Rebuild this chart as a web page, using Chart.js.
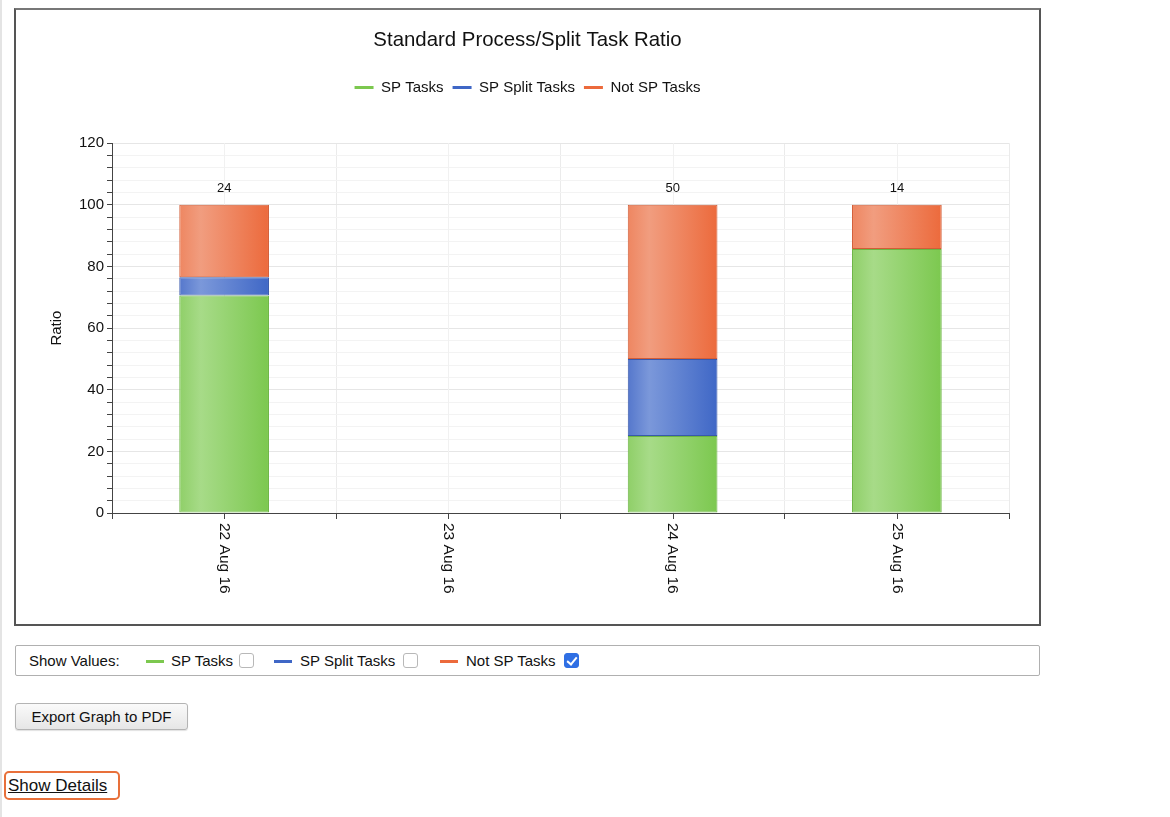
<!DOCTYPE html>
<html><head><meta charset="utf-8">
<script src="https://cdn.jsdelivr.net/npm/chart.js@4.4.1/dist/chart.umd.min.js"></script>
<style>
html,body{margin:0;padding:0;background:#fff;font-family:"Liberation Sans",Arial,Helvetica,sans-serif;color:#111;}
body{width:1170px;height:817px;position:relative;overflow:hidden;}
#strip{position:absolute;left:0;top:0;width:2px;height:817px;background:#e4e4e4;}
#box{position:absolute;left:14px;top:8px;width:1023px;height:614px;border:2px solid #555;border-top-color:#777;}
#box canvas{display:block;}
#vals{position:absolute;left:15px;top:645px;width:1023px;height:29px;border:1px solid #b0b0b0;border-radius:2px;font-size:15px;}
#vals span{position:absolute;top:6px;line-height:17px;white-space:nowrap;}
.sw{position:absolute;top:14px;width:18px;height:3px;}
.cb{position:absolute;top:7px;width:13px;height:13px;border:1px solid #b8b8b8;border-radius:3px;background:#fff;}
.cb.on{background:#2f6fe4;border-color:#2f6fe4;}
.cb.on::after{content:"";position:absolute;left:4px;top:1px;width:4px;height:8px;border:solid #fff;border-width:0 2px 2px 0;transform:rotate(40deg);}
#btn{position:absolute;left:15px;top:703px;width:171px;height:25px;border:1px solid #b4b4b4;border-radius:3px;background:linear-gradient(#fafafa,#e6e6e6);font-size:15px;line-height:25px;text-align:center;box-shadow:0 1px 1px rgba(0,0,0,0.12);}
#det{position:absolute;left:4px;top:771px;width:112px;height:25px;border:2.5px solid #e8703a;border-radius:5px;}
#det a{position:absolute;left:2px;top:3px;font-size:17px;color:#111;text-decoration:underline;}
</style></head>
<body>
<div id="strip"></div>
<div id="box"><canvas id="c"></canvas></div>
<div id="vals">
  <span style="left:13px">Show Values:</span>
  <div class="sw" style="left:130px;background:#7cc84f"></div><span style="left:155px">SP Tasks</span><div class="cb" style="left:223px"></div>
  <div class="sw" style="left:258px;background:#3f67c6"></div><span style="left:284px">SP Split Tasks</span><div class="cb" style="left:387px"></div>
  <div class="sw" style="left:424px;background:#ec6a3c"></div><span style="left:450px">Not SP Tasks</span><div class="cb on" style="left:548px"></div>
</div>
<div id="btn">Export Graph to PDF</div>
<div id="det"><a href="#">Show Details</a></div>
<script>
const categories = ['22 Aug 16', '23 Aug 16', '24 Aug 16', '25 Aug 16'];
const spTasks = [70.6, null, 25, 85.7];
const spSplitTasks = [5.9, null, 25, null];
const notSpTasks = [23.5, null, 50, 14.3];
const seriesNames = ['SP Tasks', 'SP Split Tasks', 'Not SP Tasks'];
const showValues = [false, false, true];
const yMin = 0, yMax = 120, yMajorStep = 20, yMinorStep = 4;

const palette = [
  {stops: ['#8fcf68', '#a7db88', '#7cc84f'], border: '#6cb444', swatch: '#7cc84f'},
  {stops: ['#5577cc', '#7b98da', '#3f67c6'], border: '#3859ab', swatch: '#3f67c6'},
  {stops: ['#ee8661', '#f19d7f', '#ec6a3c'], border: '#d25d37', swatch: '#ec6a3c'}
];
const BAR_FRAC = 0.4;
const FONT = '"Liberation Sans", Arial, Helvetica, sans-serif';

function grad(stops) {
  return (ctx) => {
    const ch = ctx.chart, xs = ch.scales && ch.scales.x;
    if (!ch.chartArea || !xs || ctx.dataIndex == null) return stops[2];
    const cx = xs.getPixelForValue(ctx.dataIndex);
    const w = xs.width / categories.length * BAR_FRAC;
    const g = ch.ctx.createLinearGradient(cx - w / 2, 0, cx + w / 2, 0);
    g.addColorStop(0, stops[0]); g.addColorStop(0.24, stops[1]); g.addColorStop(1, stops[2]);
    return g;
  };
}

const series = [spTasks, spSplitTasks, notSpTasks];
const datasets = series.map((d, i) => ({
  label: seriesNames[i], data: d, xAxisID: 'x', yAxisID: 'y',
  backgroundColor: grad(palette[i].stops), borderColor: palette[i].border, borderWidth: 1,
  borderSkipped: false, categoryPercentage: 0.8, barPercentage: 0.5, stack: 's'
}));

const extras = {
  id: 'extras',
  beforeDatasetsDraw(chart) {
    const {ctx, chartArea} = chart, xs = chart.scales.x;
    ctx.save();
    categories.forEach((c, i) => {
      const x = Math.round(xs.getPixelForValue(i)) + 0.5;
      ctx.strokeStyle = '#f1f1f1'; ctx.lineWidth = 1;
      ctx.beginPath(); ctx.moveTo(x, chartArea.top); ctx.lineTo(x, chartArea.bottom); ctx.stroke();
      ctx.strokeStyle = '#444';
      ctx.beginPath(); ctx.moveTo(x, chartArea.bottom); ctx.lineTo(x, chartArea.bottom + 6); ctx.stroke();
    });
    ctx.restore();
  },
  afterDraw(chart) {
    const {ctx, chartArea} = chart, xs = chart.scales.x;
    ctx.save();
    ctx.fillStyle = '#111';
    ctx.font = '15.5px ' + FONT;
    ctx.textAlign = 'left'; ctx.textBaseline = 'middle';
    categories.forEach((c, i) => {
      const x = xs.getPixelForValue(i);
      ctx.save(); ctx.translate(x, chartArea.bottom + 10); ctx.rotate(Math.PI / 2);
      ctx.fillText(c, 0, 0); ctx.restore();
    });
    ctx.font = '13px ' + FONT; ctx.textAlign = 'center';
    showValues.forEach((on, di) => {
      if (!on) return;
      const meta = chart.getDatasetMeta(di);
      meta.data.forEach((el, j) => {
        const v = series[di][j];
        if (v == null) return;
        ctx.fillText(String(Math.round(v)), el.x, el.y - 16.5);
      });
    });
    ctx.restore();
  }
};

new Chart(document.getElementById('c'), {
  type: 'bar',
  data: {labels: categories, datasets},
  options: {
    responsive: true, maintainAspectRatio: false, animation: false,
    layout: {padding: 0},
    plugins: {
      title: {display: true, text: 'Standard Process/Split Task Ratio', color: '#111',
        font: {size: 20.4, weight: 'normal', family: FONT}, padding: {top: 18, bottom: 18.5}},
      legend: {display: true, position: 'top',
        labels: {usePointStyle: true, pointStyleWidth: 19, padding: 9, color: '#111',
          font: {size: 15, family: FONT},
          generateLabels: (chart) => chart.data.datasets.map((ds, i) => ({
            text: ds.label, fillStyle: palette[i].swatch, strokeStyle: palette[i].swatch,
            lineWidth: 3, pointStyle: 'line', lineCap: 'butt', hidden: false, datasetIndex: i, fontColor: '#111'
          }))}},
      tooltip: {enabled: false}
    },
    scales: {
      x: {type: 'category', position: 'bottom', stacked: true, offset: true,
        grid: {offset: true, color: '#ebebeb', tickLength: 6, tickColor: '#444'},
        border: {color: '#444', width: 1},
        ticks: {display: false},
        afterFit: (s) => { s.height = 111; }},
      gapTop: {type: 'category', position: 'top', display: true,
        grid: {display: false}, border: {display: false}, ticks: {display: false},
        afterFit: (s) => { s.height = 38.2; }},
      y: {type: 'linear', position: 'left', stacked: true, min: yMin, max: yMax,
        ticks: {stepSize: yMinorStep, autoSkip: false, padding: 3, color: '#111',
          font: {size: 15, family: FONT},
          callback: (v) => (v % yMajorStep === 0 ? v : '')},
        grid: {tickLength: 5, tickColor: '#444',
          color: (c) => (c.tick && c.tick.value % yMajorStep === 0 ? '#e6e6e6' : '#f3f3f3')},
        border: {color: '#444', width: 1},
        title: {display: true, text: 'Ratio', color: '#111', font: {size: 15, family: FONT},
          padding: {top: 32, bottom: 0}},
        afterFit: (s) => { s.width = 96; }},
      gapRight: {type: 'linear', position: 'right', display: true,
        grid: {display: false}, border: {display: false}, ticks: {display: false},
        afterFit: (s) => { s.width = 30; }}
    }
  },
  plugins: [extras]
});
</script>
</body></html>
